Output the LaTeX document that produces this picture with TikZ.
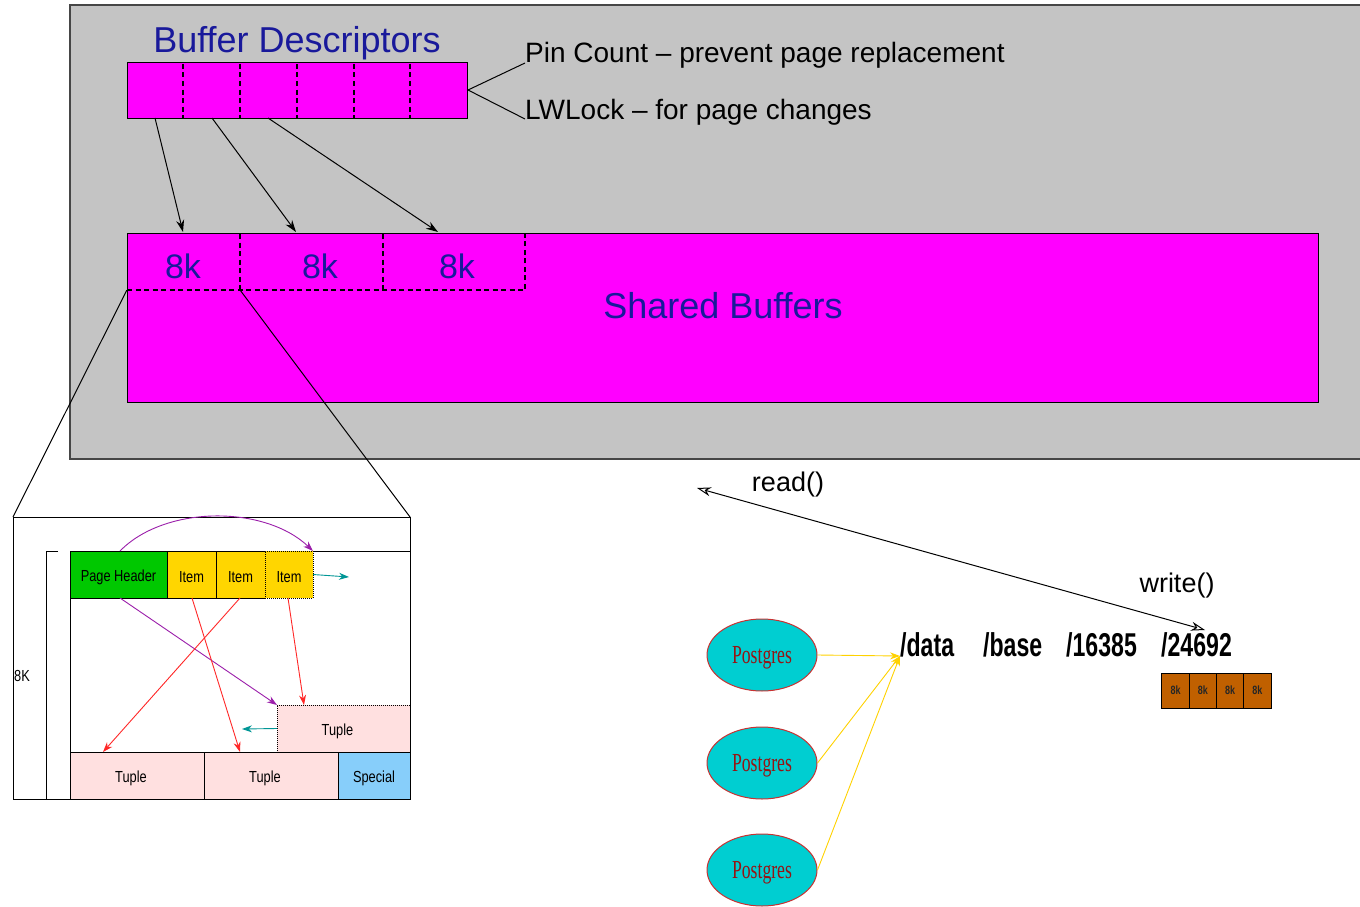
\documentclass[tikz,border=0pt]{standalone}
\usepackage{fontspec}
\setmainfont{Liberation Sans}
\newfontfamily\serifpg{Liberation Serif}
\usetikzlibrary{shapes.geometric,arrows.meta}
\definecolor{bggray}{RGB}{196,196,196}
\definecolor{mag}{RGB}{255,0,255}
\definecolor{navytxt}{RGB}{25,25,155}
\definecolor{hdrgreen}{RGB}{0,200,0}
\definecolor{itemyellow}{RGB}{255,214,0}
\definecolor{tuplepink}{RGB}{255,224,224}
\definecolor{speclblue}{RGB}{135,206,250}
\definecolor{blockbrown}{RGB}{192,96,0}
\definecolor{pgcyan}{RGB}{0,206,209}
\definecolor{pgred}{RGB}{150,20,20}
\definecolor{pgedge}{RGB}{200,50,50}
\definecolor{arrpurple}{RGB}{155,30,170}
\definecolor{arrred}{RGB}{255,40,40}
\definecolor{arrteal}{RGB}{0,150,150}
\definecolor{gold}{RGB}{255,210,0}
\definecolor{frame}{RGB}{70,70,70}
\tikzset{
  box/.style={draw, line width=1pt, inner sep=0pt, outer sep=0pt, anchor=center},
  bigtxt/.style={font=\fontsize{36}{40}\selectfont, text=navytxt, inner sep=0pt},
  midtxt/.style={font=\fontsize{27}{30}\selectfont, inner sep=0pt},
  notetxt/.style={font=\fontsize{28}{31}\selectfont, inner sep=0pt, anchor=base west},
  pagetxt/.style={font=\fontsize{16}{18}\selectfont, inner sep=0pt},
  lbl/.style={yshift=-3pt},
  celldash/.style={line width=1.3pt, dash pattern=on 5pt off 3.5pt},
  blkarr/.style={line width=1pt, -{Stealth[length=12pt,width=8pt]}},
  smallarr/.style={line width=0.9pt, -{Stealth[length=10pt,width=7pt]}},
  pgnode/.style={ellipse, draw=pgedge, line width=1pt, fill=pgcyan, minimum width=110pt, minimum height=72pt, inner sep=0pt},
  pathtxt/.style={inner sep=0pt, anchor=base west, font=\fontsize{33}{36}\selectfont\bfseries},
  blk/.style={box, fill=blockbrown, minimum width=27.25pt, minimum height=35pt, font=\fontsize{12}{13}\selectfont\bfseries, text=black!85}
}
\begin{document}
\begin{tikzpicture}[x=1pt,y=-1pt]
\useasboundingbox (0,0) rectangle (1360,907);
\fill[white] (0,0) rectangle (1360,907);
% shared memory area
\begin{scope}
\clip (0,0) rectangle (1360,907);
\draw[fill=bggray, draw=frame, line width=1.5pt] (70,5) rectangle (1370,459);
\end{scope}

% Buffer descriptors
\node[bigtxt, anchor=base] (bdt) at (297,53) {Buffer Descriptors};
\node[box, fill=mag, minimum width=340pt, minimum height=55pt] (bd) at (297,90.5) {};
\foreach \x in {183,240,297,354,410} \draw[celldash] (\x,64) -- (\x,118);
\node[notetxt] (pin) at (525,63) {Pin Count -- prevent page replacement};
\node[notetxt] (lw) at (525,119) {LWLock -- for page changes};
\coordinate (bdr) at (468,90);
\draw[line width=1pt] (pin.base west) -- (bdr) -- (lw.base west);

% Shared buffers
\node[box, fill=mag, minimum width=1191pt, minimum height=169pt] (sb) at (722.5,317.5) {};
\node[bigtxt, anchor=base] (sbt) at (723,318) {Shared Buffers};
\node[inner sep=0pt, minimum width=113pt, minimum height=57pt] (c1) at (183.5,261.5) {};
\node[inner sep=0pt, minimum width=143pt, minimum height=57pt] (c2) at (311.5,261.5) {};
\node[inner sep=0pt, minimum width=142pt, minimum height=57pt] (c3) at (454,261.5) {};
\draw[celldash] (127,290) -- (525,290) -- (525,234);
\draw[celldash] (240,234) -- (240,290);
\draw[celldash] (383,234) -- (383,290);
\node[bigtxt, anchor=base, font=\fontsize{34}{38}\selectfont] (k1) at (183,278) {8k};
\node[bigtxt, anchor=base, font=\fontsize{34}{38}\selectfont] (k2) at (320,278) {8k};
\node[bigtxt, anchor=base, font=\fontsize{34}{38}\selectfont] (k3) at (457,278) {8k};

\coordinate (d1) at (155,118); \coordinate (d2) at (212,118); \coordinate (d3) at (268,118);
\coordinate (t1) at (183,232); \coordinate (t2) at (296,232); \coordinate (t3) at (438,232);
\draw[blkarr] (d1) -- (t1);
\draw[blkarr] (d2) -- (t2);
\draw[blkarr] (d3) -- (t3);

% page detail
\node[box, minimum width=397pt, minimum height=282pt] (page) at (211.5,658) {};
\draw[line width=1pt] (c1.south west) -- (page.north west);
\draw[line width=1pt] (c1.south east) -- (page.north east);
\draw[line width=1pt] (410,551) -- (70,551) -- (70,799);
\draw[line width=1pt] (58,551) -- (46,551) -- (46,799);
\node[pagetxt] (eightk) at (22,676) {\scalebox{0.8}[1]{8K}};

\node[box, fill=hdrgreen, minimum width=97pt, minimum height=47pt, pagetxt] (ph) at (118.5,574.5) {};
\node[box, fill=itemyellow, minimum width=49pt, minimum height=47pt, pagetxt] (it1) at (191.5,574.5) {};
\node[box, fill=itemyellow, minimum width=49pt, minimum height=47pt, pagetxt] (it2) at (240.5,574.5) {};
\node[box, densely dotted, fill=itemyellow, minimum width=48pt, minimum height=47pt, pagetxt] (it3) at (289,574.5) {};
\node[box, densely dotted, fill=tuplepink, minimum width=133pt, minimum height=47pt, pagetxt] (tupd) at (343.5,728.5) {};
\node[box, fill=tuplepink, minimum width=134pt, minimum height=47pt, pagetxt] (tu1) at (137,775.5) {};
\node[box, fill=tuplepink, minimum width=134pt, minimum height=47pt, pagetxt] (tu2) at (271,775.5) {};
\node[box, fill=speclblue, minimum width=72pt, minimum height=47pt, pagetxt] (spec) at (374,775.5) {};
\node[pagetxt, lbl] at (ph) {\scalebox{0.8}[1]{Page Header}};
\node[pagetxt, lbl] at (it1) {\scalebox{0.8}[1]{Item}};
\node[pagetxt, lbl] at (it2) {\scalebox{0.8}[1]{Item}};
\node[pagetxt, lbl] at (it3) {\scalebox{0.8}[1]{Item}};
\node[pagetxt, lbl, xshift=-6pt] at (tupd) {\scalebox{0.8}[1]{Tuple}};
\node[pagetxt, lbl, xshift=-6pt] at (tu1) {\scalebox{0.8}[1]{Tuple}};
\node[pagetxt, lbl, xshift=-6pt] at (tu2) {\scalebox{0.8}[1]{Tuple}};
\node[pagetxt, lbl] at (spec) {\scalebox{0.8}[1]{Special}};
\draw[line width=1pt] (page.north east) -- (page.south east);

\coordinate (phT) at (120,551);
\draw[smallarr, arrpurple] (phT) .. controls (165,505) and (265,505) .. (it3.north east);
\coordinate (phB) at (120,598);
\draw[smallarr, arrpurple] (phB) -- (tupd.north west);
\coordinate (i1B) at (192,598); \coordinate (tu2T) at (240,752);
\draw[smallarr, arrred] (i1B) -- (tu2T);
\coordinate (i2B) at (240,598); \coordinate (tu1T) at (103,752);
\draw[smallarr, arrred] (i2B) -- (tu1T);
\coordinate (i3B) at (288,598); \coordinate (tdT) at (304,705);
\draw[smallarr, arrred] (i3B) -- (tdT);
\coordinate (i3R) at (349,577);
\draw[smallarr, arrteal] (it3.east) -- (i3R);
\coordinate (tdL) at (242,729);
\draw[smallarr, arrteal] (tupd.west) -- (tdL);

% processes
\node[pgnode] (p1) at (762,655) {};
\node[pgnode] (p2) at (762,763) {};
\node[pgnode] (p3) at (762,870) {};
\foreach \p in {p1,p2,p3}
  \node[inner sep=0pt, yshift=-3pt] at (\p) {\serifpg\fontsize{26}{28}\selectfont\color{pgred}\scalebox{0.68}[1]{Postgres}};

\node[pathtxt] (pdata) at (900,656) {\scalebox{0.7}[1]{/data}};
\node[pathtxt] (pbase) at (983,656) {\scalebox{0.7}[1]{/base}};
\node[pathtxt] (pdb) at (1066,656) {\scalebox{0.7}[1]{/16385}};
\node[pathtxt] (prel) at (1161,656) {\scalebox{0.7}[1]{/24692}};
\coordinate (dt) at (900,656);
\draw[smallarr, gold] (p1.east) -- (dt);
\draw[smallarr, gold] (p2.east) -- (dt);
\draw[smallarr, gold] (p3.east) -- (dt);

\node[blk] (b1) at (1175.6,690.5) {\scalebox{0.75}[1]{8k}};
\node[blk] (b2) at (1202.9,690.5) {\scalebox{0.75}[1]{8k}};
\node[blk] (b3) at (1230.1,690.5) {\scalebox{0.75}[1]{8k}};
\node[blk] (b4) at (1257.4,690.5) {\scalebox{0.75}[1]{8k}};

% read/write
\coordinate (rd) at (697,488);
\coordinate (wr) at (1205,630);
\draw[line width=1pt, {Stealth[length=14pt,width=9pt,open]}-{Stealth[length=14pt,width=9pt,open]}] (rd) -- (wr);
\node[midtxt] (rdt) at (788,485) {read()};
\node[midtxt] (wrt) at (1177,586) {write()};
\end{tikzpicture}
\end{document}
